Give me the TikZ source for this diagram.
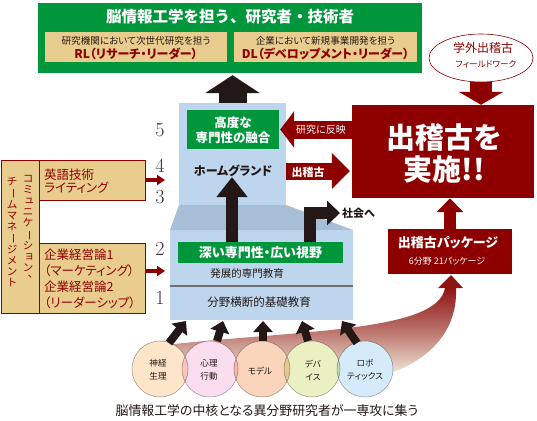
\documentclass[tikz,border=0pt]{standalone}
\usepackage{fontspec}
\newfontfamily\jp[RawFeature=+palt]{Noto Sans CJK JP}
\newfontfamily\jpf{Noto Sans CJK JP}
\usetikzlibrary{arrows.meta,shapes.geometric,calc}
\definecolor{cgreen}{HTML}{00963C}
\definecolor{cbeige}{HTML}{E8CD8F}
\definecolor{cred}{HTML}{8E0000}
\definecolor{cblue}{HTML}{BDD6EE}
\definecolor{croof}{HTML}{A7BED7}
\definecolor{cblack}{HTML}{231815}
\definecolor{cgray}{HTML}{707070}
\definecolor{swdark}{HTML}{8E1414}
\definecolor{swlight}{HTML}{F4EEDD}
\definecolor{cc1}{HTML}{FDE5C9}
\definecolor{cc2}{HTML}{FADDEE}
\definecolor{cc3}{HTML}{FAD5BB}
\definecolor{cc4}{HTML}{EAF0C2}
\definecolor{cc5}{HTML}{D5EBF9}
\newcommand\vbar{\rotatebox[origin=c]{-90}{ー}}
\newcommand\vcomma{\makebox[1em][l]{\hspace{0.5em}\raisebox{0.5em}{\makebox[0.5em][l]{、}}}}
\newcommand\vsmall[1]{\makebox[1em][l]{\hspace{0.12em}\raisebox{0.08em}{\makebox[0.88em][l]{#1}}}}
\tikzset{
  box/.style n args={3}{inner sep=0pt, minimum width=#1pt, minimum height=#2pt, fill=#3},
  fat/.style n args={4}{draw=#1, line width=#2pt, -{Triangle[length=#3pt,width=#4pt]}},
  fs/.style={font=\jp\fontsize{#1}{#1}\selectfont},
  lbl/.style={inner sep=0pt, align=center},
  num/.style={inner sep=0pt, text=cblack!90, font=\fontsize{20}{20}\selectfont},
  circw/.style={circle, minimum size=56pt, inner sep=0pt, fill=white},
  circ/.style={circle, minimum size=56pt, inner sep=0pt, draw=cgray!70, line width=0.5pt, fill=#1, blend mode=multiply},
  redbox/.style={draw=cred, line width=0.8pt},
  vcol/.style={inner sep=0pt, align=center, text=cred, font=\jpf\fontsize{10.5}{11}\selectfont},
}
\begin{document}
\begin{tikzpicture}[x=1pt,y=-1pt]
\useasboundingbox (0,0) rectangle (537,420);

% ---------- top green box ----------
\node[box={384}{70}{cgreen}] (top) at (230,38) {};
\node[lbl, text=white, font=\jpf\bfseries\fontsize{15.5}{16}\selectfont] (title) at (230,17) {脳情報工学を担う、研究者・技術者};
\node[box={182}{30}{cbeige}] (rl) at (136,47) {};
\node[box={183}{30}{cbeige}] (dl) at (325.5,47) {};
\node[lbl, text=cblack, fs=9.6] (rlsub) at (136,41) {研究機関において次世代研究を担う};
\node[lbl, text=cred, font=\jp\bfseries\fontsize{12}{12}\selectfont] (rlmain) at (136,54) {RL（リサーチ・リーダー）};
\node[lbl, text=cblack, fs=9.6] (dlsub) at (325.5,41) {企業において新規事業開発を担う};
\node[lbl, text=cred, font=\jp\bfseries\fontsize{12}{12}\selectfont] (dlmain) at (325.5,54) {DL（デベロップメント・リーダー）};

% ---------- field work ellipse ----------
\node[ellipse, draw=cred, line width=0.6pt, fill=white, minimum width=104pt, minimum height=48pt, inner sep=0pt] (field) at (481,58) {};
\node[lbl, text=cred, fs=12] (fieldt) at (483,48) {学外出稽古};
\node[lbl, text=cred, fs=8.6] (fields) at (486,64) {フィールドワーク};

% ---------- big red box ----------
\node[box={182}{93}{cred}] (dekeiko) at (443,151.5) {};
\node[lbl, text=white, font=\jpf\bfseries\fontsize{29}{32}\selectfont] (dk) at (444,154) {出稽古を\\実施!!};
\draw[fat={cred}{22}{13}{44}] (field.south) -- (field.south |- dekeiko.north);

% ---------- package box ----------
\node[box={124}{45}{cred}] (pkg) at (450,251.5) {};
\node[lbl, text=white, font=\jp\bfseries\fontsize{13}{13}\selectfont] (pkgt) at (448,243) {出稽古パッケージ};
\node[lbl, text=white, fs=9] (pkgs) at (447,261) {6分野 21パッケージ};
\draw[fat={cred}{12}{14}{26}] (pkg.north) -- (pkg.north |- dekeiko.south);

% ---------- building ----------
\node[box={107}{127}{cblue}] (tower) at (232.5,166.5) {};
\node[box={183}{90}{cblue}] (lower) at (261.5,275) {};
\fill[croof] (179,205) -- (286,205) -- (353,230) -- (170,230) -- cycle;
\draw[cgray, line width=1.2pt] (lower.west |- 0,286) -- (lower.east |- 0,286);

\node[box={92}{39}{cgreen}] (koudo) at (233,129.5) {};
\node[lbl, text=white, font=\jp\bfseries\fontsize{12.5}{15}\selectfont] (koudot) at (233,130) {高度な\\専門性の融合};
\node[lbl, text=cblack, font=\jp\bfseries\fontsize{12}{12}\selectfont] (home) at (233,171) {ホームグランド};
\node[box={165}{21}{cgreen}] (fukai) at (260.5,252.5) {};
\node[lbl, text=white, font=\jp\bfseries\fontsize{13}{13}\selectfont] (fukait) at (260.5,252.5) {深い専門性・広い視野};
\node[lbl, text=cblack, fs=10.5] (hatten) at (247,274) {発展的専門教育};
\node[lbl, text=cblack, fs=11.5] (bunya) at (259,302) {分野横断的基礎教育};

% ---------- numbers ----------
\node[num] (n5) at (160,130) {5};
\node[num] (n4) at (160,166) {4};
\node[num] (n3) at (160,197) {3};
\node[num] (n2) at (160,249) {2};
\node[num] (n1) at (160,298) {1};

% ---------- black arrows in building ----------
\draw[fat={cblack}{28}{18}{54}, shorten >=2pt] (tower.north) -- (tower.north |- top.south);
\coordinate (up0) at (232,242);
\draw[fat={cblack}{12}{20}{30}] (up0) -- (up0 |- home.south);
\coordinate (soc0) at (310,242);
\node[lbl, anchor=west, text=cblack, font=\jp\bfseries\fontsize{11}{11}\selectfont] (shakai) at (342,213) {社会へ};
\draw[fat={cblack}{12}{13}{24}, line join=miter, shorten >=2pt] (soc0) |- (shakai.west);

% ---------- red arrows between building and big box ----------
\draw[fat={cred}{18}{14}{36}, shorten >=1pt] (dekeiko.west |- koudo.east) -- (koudo.east);
\node[lbl, text=white, fs=10] (hanei) at (321,130) {研究に反映};
\draw[fat={cred}{17}{18}{35}, shorten >=2pt] (tower.east |- home) -- (dekeiko.west |- home);
\node[lbl, text=white, font=\jp\bfseries\fontsize{11}{11}\selectfont] (dkl) at (308,172) {出稽古};

% ---------- left boxes ----------
\node[box={38}{153}{cbeige}, redbox] (comm) at (20,236.5) {};
\node[box={106}{40}{cbeige}, redbox] (eigo) at (92,180) {};
\node[box={106}{70}{cbeige}, redbox] (kigyo) at (92,278) {};
\node[vcol] (commR) at (28,229) {コ\\ミ\\\vsmall{ュ}\\ニ\\ケ\\\vbar\\シ\\\vsmall{ョ}\\ン\\\vcomma};
\node[vcol] (commL) at (12,232) {チ\\\vbar\\ム\\マ\\ネ\\\vbar\\ジ\\メ\\ン\\ト};
\node[lbl, anchor=west, align=left, text=cred, font=\jp\fontsize{12.5}{13}\selectfont] (eigot) at (44,181) {英語技術\\ライティング};
\node[lbl, anchor=west, align=left, text=cred, font=\jp\fontsize{12.5}{16}\selectfont] (kigyot) at (44,279) {企業経営論1\\（マーケティング）\\企業経営論2\\（リーダーシップ）};
\coordinate (e1) at (165,180);
\coordinate (k1) at (165,271);
\draw[fat={cred}{3.5}{8}{10}] (eigo.east |- e1) -- (e1);
\draw[fat={cred}{3.5}{8}{10}] (kigyo.east |- k1) -- (k1);

% ---------- swoosh ----------
\shade[top color=swdark, bottom color=swlight, middle color=swdark!55!swlight]
  (165,345) .. controls (300,330) and (438,332) .. (445,288)
  -- (456,288) .. controls (458,338) and (420,364) .. (385,375)
  -- (200,376) -- cycle;
\coordinate (swtip) at (451,275);
\fill[swdark] (438,288) -- (463,288) -- (swtip) -- cycle;

% ---------- circles ----------
\foreach \cx [count=\i] in {160,210,262,312,365} {\node[circw] (w\i) at (\cx,369) {};}
\node[circ=cc1] (c1) at (160,369) {};
\node[circ=cc2] (c2) at (210,369) {};
\node[circ=cc3] (c3) at (262,369) {};
\node[circ=cc4] (c4) at (312,369) {};
\node[circ=cc5] (c5) at (365,369) {};
\node[lbl, text=cblack, font=\jp\fontsize{8.6}{13}\selectfont] (t1) at (158,370) {神経\\生理};
\node[lbl, text=cblack, font=\jp\fontsize{8.6}{13}\selectfont] (t2) at (209,370) {心理\\行動};
\node[lbl, text=cblack, font=\jp\fontsize{8.6}{13}\selectfont] (t3) at (260,371) {モデル};
\node[lbl, text=cblack, font=\jp\fontsize{8.6}{13}\selectfont] (t4) at (313,370) {デバ\\イス};
\node[lbl, text=cblack, font=\jp\fontsize{8.6}{13}\selectfont] (t5) at (365,370) {ロボ\\ティックス};

\coordinate (a1) at (169,343); \coordinate (b1) at (186,321);
\coordinate (a2) at (217,341); \coordinate (b2) at (223,321);
\coordinate (a3) at (263,341); \coordinate (b3) at (263,321);
\coordinate (a4) at (308,341); \coordinate (b4) at (302,321);
\coordinate (a5) at (357,343); \coordinate (b5) at (342,321);
\foreach \i in {1,...,5} {\draw[fat={cblack}{8}{11}{19}] (a\i) -- (b\i);}

\node[lbl, text=cblack, fs=12.9] (bottom) at (267,411) {脳情報工学の中核となる異分野研究者が一専攻に集う};
\end{tikzpicture}
\end{document}
